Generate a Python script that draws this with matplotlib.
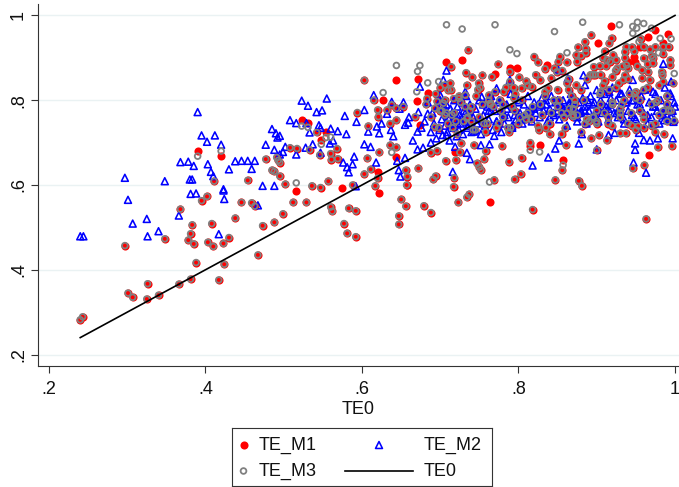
"""Scatter of TE_M1, TE_M2, TE_M3 against TE0"""

import matplotlib
matplotlib.use("Agg")

import matplotlib.pyplot as plt

plt.rcParams["font.family"] = ["Liberation Sans", "DejaVu Sans"]

# ==========================================================
# DATA
# ==========================================================

# firms where TE_M1 and TE_M3 sit on top of each other
te0_both = [
    .240, .243, .297, .301, .307, .326, .325, .340, .348, .366,
    .368, .381, .383, .381, .378, .385, .388, .395, .402, .403,
    .410, .408, .423, .430, .424, .417, .438, .446, .459, .463,
    .467, .473, .488, .499, .512, .529, .560, .562, .411, .454,
    .477, .485, .488, .495, .502, .491, .493, .495, .508, .517,
    .542, .533, .546, .536, .547, .557, .560, .561, .568, .569,
    .577, .581, .592, .583, .592, .588, .617, .620, .603, .611,
    .607, .622, .636, .644, .647, .647, .650, .656, .656, .658,
    .657, .672, .679, .688, .691, .694, .688, .696, .707, .717,
    .718, .723, .734, .737, .720, .725, .727, .743, .747, .750,
    .752, .756, .758, .769, .779, .788, .795, .803, .804, .818,
    .815, .847, .856, .877, .881, .861, .900, .893, .887, .903,
    .913, .937, .930, .953, .961, .946, .963, .978, .986, .996,
    .999, .603, .736, .774, .714, .733, .741, .754, .766, .789,
    .801, .820, .825, .834, .853, .851, .862, .874, .875, .885,
    .886, .886, .893, .919, .916, .938, .936, .921, .913, .917,
    .960, .972, .994, .994, .960, .975, .985, .992, .896, .904,
    .926, .936, .934, .938, .958, .966, .983, .958, .968, .985,
    .874, .862, .849, .842, .828, .817, .794, .804, .789, .781,
    .770, .762, .764, .768, .749, .751, .732, .724, .713, .706,
    .710, .717, .704, .696, .683, .693, .706, .715, .734, .740,
    .668, .644, .653, .620, .615, .594, .638, .632, .621, .644,
    .608, .636, .693, .845, .862, .870, .838, .880, .895, .910,
    .925, .942, .955, .970, .985, .850, .868, .905, .920, .950,
    .965, .978, .990, .780, .795, .810, .825, .775, .790, .830,
    .840, .745, .760, .720, .735, .700, .812, .835, .855, .890,
    .915, .930, .945, .960, .975, .990, .872, .898, .908, .933,
    .948, .972,
]
te_both = [
    .282, .289, .457, .345, .335, .367, .331, .340, .473, .366,
    .543, .378, .506, .485, .470, .461, .417, .563, .573, .465,
    .455, .509, .462, .476, .413, .376, .522, .559, .558, .550,
    .435, .504, .512, .532, .559, .559, .548, .538, .609, .611,
    .661, .635, .632, .621, .602, .665, .658, .653, .688, .686,
    .724, .683, .671, .598, .594, .609, .674, .660, .686, .662,
    .509, .486, .478, .545, .539, .600, .598, .616, .626, .637,
    .663, .677, .694, .689, .527, .507, .566, .550, .635, .620,
    .600, .639, .551, .535, .613, .621, .676, .681, .657, .596,
    .617, .559, .571, .578, .659, .677, .698, .694, .651, .642,
    .635, .661, .680, .612, .692, .655, .613, .626, .664, .542,
    .700, .612, .635, .610, .598, .694, .682, .710, .755, .718,
    .705, .722, .722, .739, .647, .639, .520, .689, .720, .692,
    .752, .847, .919, .885, .879, .865, .854, .859, .855, .867,
    .854, .903, .889, .874, .903, .891, .889, .907, .891, .938,
    .922, .912, .954, .946, .934, .926, .914, .907, .895, .891,
    .899, .887, .895, .883, .926, .926, .926, .926, .879, .881,
    .875, .859, .848, .883, .871, .867, .867, .852, .848, .844,
    .836, .840, .867, .852, .848, .832, .830, .828, .844, .820,
    .820, .812, .793, .785, .840, .830, .812, .804, .840, .836,
    .824, .804, .793, .797, .804, .781, .765, .765, .757, .785,
    .761, .781, .785, .777, .800, .771, .789, .777, .761, .753,
    .739, .745, .737, .800, .769, .761, .828, .825, .860, .845,
    .830, .815, .800, .790, .775, .785, .810, .820, .790, .805,
    .830, .800, .810, .790, .775, .755, .740, .745, .735, .765,
    .720, .730, .745, .750, .760, .775, .770, .735, .720, .750,
    .760, .770, .740, .735, .725, .790, .800, .860, .835, .880,
    .915, .900,
]

# thick clouds around the line and in the top right corner
te0_cloud = [
    .682, .688, .694, .698, .702, .706, .710, .714, .718, .722,
    .726, .730, .734, .738, .742, .746, .750, .754, .758, .762,
    .700, .708, .716, .724, .732, .740, .748, .756, .764, .772,
    .776, .780, .784, .788, .792, .796, .800, .804, .808, .812,
    .778, .786, .794, .802, .810, .818, .826, .834, .842, .850,
    .816, .822, .828, .834, .840, .846, .852, .858, .864, .870,
    .856, .864, .872, .880, .888, .896, .904, .912, .920, .928,
    .876, .884, .892, .900, .908, .916, .924, .932, .940, .948,
    .936, .944, .952, .960, .968, .976, .984, .992, .998, .956,
    .900, .910, .920, .930, .940, .950, .960, .970, .980, .990,
    .905, .915, .925, .935, .945, .955, .965, .975, .985, .995,
    .860, .870, .880, .890, .900, .910, .920, .930, .940, .950,
    .960, .970, .980, .990, .855, .865, .875, .885, .895, .905,
]
te_cloud = [
    .790, .760, .815, .735, .775, .800, .745, .825, .770, .720,
    .795, .750, .835, .775, .730, .810, .760, .790, .725, .800,
    .830, .770, .735, .810, .785, .750, .825, .745, .790, .735,
    .800, .760, .830, .725, .785, .815, .745, .800, .765, .835,
    .775, .735, .805, .760, .845, .785, .730, .810, .770, .825,
    .755, .860, .790, .820, .745, .875, .800, .760, .850, .780,
    .870, .825, .790, .905, .850, .760, .815, .880, .795, .840,
    .925, .800, .860, .775, .900, .825, .870, .790, .850, .815,
    .900, .770, .880, .825, .920, .795, .860, .775, .840, .945,
    .750, .915, .855, .780, .875, .820, .765, .905, .835, .810,
    .860, .745, .895, .800, .925, .775, .885, .745, .910, .775,
    .735, .765, .725, .750, .745, .770, .740, .760, .745, .730,
    .755, .740, .765, .750, .770, .780, .765, .745, .760, .790,
]

te0_m1_only = [.390, .420, .516, .523, .531, .554, .548, .574, .622, .621,
               .644, .657, .719, .763, .857, .967, .918, .644, .728, .708,
               .671, .684, .670, .627, .674, .902, .991, .789, .798, .836,
               .947, .949, .770, .815, .827, .955, .965, .975, .940, .985]
te_m1_only = [.680, .669, .587, .753, .747, .725, .707, .594, .580, .630,
              .667, .600, .679, .559, .660, .671, .974, .847, .896, .889,
              .849, .818, .799, .800, .741, .934, .956, .875, .875, .883,
              .903, .891, .862, .692, .695, .925, .950, .965, .890, .935]

te0_m3_only = [.390, .420, .516, .523, .531, .548, .554, .560, .638, .763,
               .857, .708, .728, .770, .882, .846, .929, .946, .952, .960,
               .946, .951, .970, .789, .798, .644, .674, .671, .684, .627,
               .698, .670, .862, .999, .995, .954, .981, .979, .815, .827]
te_m3_only = [.668, .680, .605, .739, .736, .696, .712, .713, .677, .607,
              .647, .978, .968, .978, .984, .962, .978, .974, .984, .981,
              .958, .970, .970, .919, .910, .882, .882, .868, .841, .818,
              .844, .820, .912, .863, .945, .938, .946, .912, .682, .678]

te0_m2 = [
    .240, .244, .301, .307, .325, .326, .340, .366, .381, .388,
    .417, .424, .423, .467, .297, .348, .380, .383, .368, .378,
    .385, .390, .395, .402, .412, .420, .403, .407, .410, .423,
    .430, .438, .446, .454, .463, .459, .473, .488, .477, .485,
    .490, .492, .495, .488, .495, .499, .502, .508, .516, .523,
    .531, .542, .549, .555, .529, .545, .547, .560, .533, .537,
    .528, .516, .547, .569, .563, .559, .593, .603, .611, .590,
    .588, .576, .581, .583, .592, .618, .645, .655, .647, .649,
    .671, .678, .688, .716, .738, .734, .752, .763, .769, .743,
    .818, .838, .847, .852, .877, .881, .900, .947, .949, .949,
    .963, .960, .968, .978, .997, .986, .998, .954, .915, .923,
    .684, .671, .659, .637, .619, .622, .608, .580, .708, .719,
    .708, .674, .704, .615, .578, .603, .638, .653, .700, .732,
    .753, .772, .789, .851, .863, .883, .885, .900, .916, .930,
    .946, .985, .995, .994, 1.00, .985, .999, .972,
    # dense band
    .625, .632, .640, .648, .655, .660, .665, .672, .676, .680,
    .684, .688, .690, .692, .695, .697, .699, .700, .702, .703,
    .705, .706, .708, .709, .710, .712, .713, .714, .716, .717,
    .718, .720, .721, .722, .724, .725, .726, .728, .729, .730,
    .732, .733, .735, .736, .738, .740, .742, .745, .747, .750,
    .752, .755, .757, .760, .762, .765, .767, .770, .772, .775,
    .778, .780, .782, .785, .787, .790, .792, .795, .797, .800,
    .802, .805, .807, .810, .812, .815, .817, .820, .822, .825,
    .827, .830, .832, .835, .837, .840, .842, .845, .847, .850,
    .852, .855, .857, .860, .862, .865, .867, .870, .872, .875,
    .877, .880, .882, .885, .887, .890, .892, .895, .897, .900,
    .902, .905, .907, .910, .912, .915, .917, .920, .922, .925,
    .927, .930, .932, .935, .937, .940, .942, .945, .947, .950,
    .952, .955, .957, .960, .962, .965, .967, .970, .972, .975,
    .977, .980, .982, .985, .987, .990, .992, .995, .997, .999,
    .705, .715, .725, .735, .745, .755, .765, .775, .785, .795,
    .805, .815, .825, .835, .845, .855, .865, .875, .885, .895,
    .905, .915, .925, .935, .945, .955, .965, .975, .985, .995,
    .800, .810, .820, .830, .840, .850, .860, .870, .880, .890,
    .712, .722, .732, .742, .752, .762, .772, .782, .792, .802,
    .858, .868, .878, .888, .898, .908, .918, .928, .938, .948,
]
te_m2 = [
    .479, .479, .565, .509, .520, .479, .491, .528, .579, .580,
    .484, .567, .587, .552, .617, .609, .613, .613, .654, .655,
    .645, .772, .717, .702, .717, .695, .649, .631, .621, .590,
    .637, .656, .657, .657, .657, .638, .598, .598, .695, .732,
    .722, .712, .716, .683, .672, .678, .690, .753, .746, .799,
    .787, .772, .776, .804, .746, .741, .735, .733, .724, .696,
    .688, .672, .676, .727, .705, .698, .749, .696, .690, .667,
    .649, .653, .642, .630, .597, .653, .657, .664, .635, .620,
    .684, .688, .700, .631, .661, .676, .694, .696, .716, .726,
    .646, .665, .686, .705, .698, .720, .684, .653, .698, .683,
    .629, .706, .705, .710, .710, .753, .749, .723, .718, .723,
    .768, .726, .747, .730, .738, .722, .726, .720, .718, .690,
    .870, .832, .848, .812, .763, .777, .796, .795, .812, .820,
    .808, .828, .848, .871, .852, .859, .836, .824, .820, .816,
    .848, .886, .844, .816, .785, .765, .755, .820,
    # dense band
    .745, .768, .715, .780, .742, .760, .705, .772, .735, .750,
    .795, .725, .770, .745, .710, .785, .730, .800, .755, .718,
    .775, .740, .790, .725, .760, .705, .780, .745, .770, .735,
    .800, .755, .715, .785, .730, .765, .745, .795, .720, .775,
    .750, .810, .735, .770, .790, .725, .760, .780, .745, .800,
    .720, .765, .740, .785, .755, .810, .730, .775, .750, .795,
    .725, .770, .745, .790, .760, .815, .735, .780, .755, .800,
    .770, .745, .790, .765, .810, .780, .750, .795, .770, .785,
    .760, .805, .775, .790, .750, .780, .810, .765, .795, .775,
    .755, .785, .800, .770, .740, .790, .815, .765, .780, .750,
    .795, .770, .805, .785, .745, .775, .810, .760, .795, .780,
    .750, .800, .770, .815, .785, .755, .790, .830, .770, .800,
    .760, .785, .815, .745, .795, .775, .825, .765, .800, .755,
    .790, .780, .810, .770, .825, .745, .795, .760, .785, .815,
    .775, .745, .800, .765, .830, .785, .755, .810, .775, .795,
    .785, .770, .755, .740, .730, .790, .775, .800, .780, .765,
    .755, .775, .790, .800, .770, .785, .795, .760, .775, .790,
    .815, .780, .770, .755, .800, .790, .765, .785, .775, .760,
    .795, .770, .780, .790, .760, .800, .770, .785, .775, .795,
    .760, .745, .770, .735, .755, .775, .750, .765, .740, .760,
    .780, .790, .770, .800, .765, .785, .805, .775, .795, .760,
]

line_x = [.24, 1.0]
line_y = [.24, 1.0]

x_ticks = [.2, .4, .6, .8, 1]
y_ticks = [.2, .4, .6, .8, 1]
tick_labels = [".2", ".4", ".6", ".8", "1"]
legend_names = ["TE_M1", "TE_M2", "TE_M3", "TE0"]

te_m1_x = te0_both + te0_cloud + te0_m1_only
te_m1_y = te_both + te_cloud + te_m1_only
te_m3_x = te0_both + te0_cloud + te0_m3_only
te_m3_y = te_both + te_cloud + te_m3_only

# ==========================================================
# FIGURE LAYOUT
# ==========================================================

W, H = 679, 487
fig = plt.figure(figsize=(W / 100, H / 100), dpi=100, facecolor="white")

# plot region, pixels from the picture
ax = fig.add_axes([38 / W, 1 - 366 / H, (679 - 38) / W, (366 - 4) / H])
ax.set_xlim(0.186, 1.0051)
ax.set_ylim(0.173, 1.027)

# ==========================================================
# POINTS
# ==========================================================

RED = "#FF0000"
BLUE = "#0000FF"
GRAY = "#808080"

ax.scatter(te_m1_x, te_m1_y, s=34, color=RED, linewidths=0, clip_on=False, zorder=3)
ax.scatter(te0_m2, te_m2, s=25, marker="^", facecolors="none", edgecolors=BLUE,
           linewidths=1.15, clip_on=False, zorder=4)
ax.scatter(te_m3_x, te_m3_y, s=17, facecolors="none", edgecolors=GRAY,
           linewidths=1.3, clip_on=False, zorder=5)
ax.plot(line_x, line_y, color="black", lw=1.2, zorder=6)

# ==========================================================
# STYLE
# ==========================================================

for sp in ["top", "right"]:
    ax.spines[sp].set_visible(False)
for sp in ["left", "bottom"]:
    ax.spines[sp].set_color("#333333")
    ax.spines[sp].set_linewidth(0.8)

ax.set_xticks(x_ticks)
ax.set_xticklabels(tick_labels, fontsize=13)
ax.set_yticks(y_ticks)
ax.set_yticklabels(tick_labels, fontsize=13, rotation=90, va="center")
ax.tick_params(axis="x", length=5, width=0.8, color="#333333", labelcolor="#111111", pad=6)
ax.tick_params(axis="y", length=5, width=0.8, color="#333333", labelcolor="#111111", pad=3)
ax.set_xlabel("TE0", fontsize=13, color="#111111", labelpad=2)

ax.grid(axis="y", color="#EAF2F3", lw=1.0)
ax.set_axisbelow(True)

# ==========================================================
# LEGEND
# ==========================================================

# drawn in its own box so the keys sit where they do in the original
leg = fig.add_axes([232 / W, 1 - 486 / H, 260 / W, 58 / H])
leg.set_xlim(232, 492)
leg.set_ylim(486, 428)
leg.set_xticks([])
leg.set_yticks([])
for sp in leg.spines.values():
    sp.set_color("#333333")
    sp.set_linewidth(0.8)

leg.scatter([243.5], [445], s=34, color=RED, linewidths=0)
leg.scatter([379], [445], s=25, marker="^", facecolors="none", edgecolors=BLUE, linewidths=1.15)
leg.scatter([243.5], [471], s=17, facecolors="none", edgecolors=GRAY, linewidths=1.3)
leg.plot([345, 413], [471, 471], color="black", lw=1.2)

leg.text(258.5, 445, legend_names[0], fontsize=13, va="center", color="#111111")
leg.text(424, 445, legend_names[1], fontsize=13, va="center", color="#111111")
leg.text(258.5, 471, legend_names[2], fontsize=13, va="center", color="#111111")
leg.text(424, 471, legend_names[3], fontsize=13, va="center", color="#111111")

# ==========================================================
# SAVE
# ==========================================================

fig.savefig("out.png", dpi=100, facecolor="white")
plt.close()
